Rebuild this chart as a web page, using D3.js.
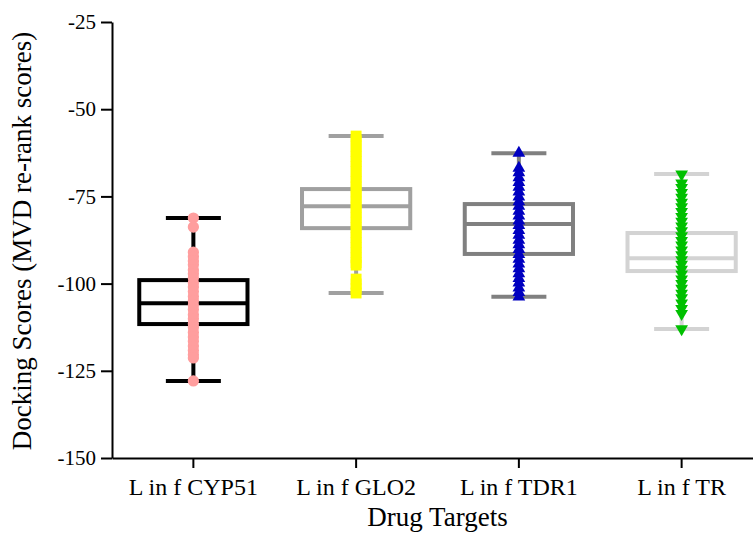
<!DOCTYPE html>
<html>
<head>
<meta charset="utf-8">
<script src="https://cdn.jsdelivr.net/npm/d3@7"></script>
<style>
  html, body { margin: 0; padding: 0; background: #fff; }
  svg { display: block; }
</style>
</head>
<body>
<svg id="chart" width="753" height="533"></svg>
<script>
// ---- data ----
const categories = ["L in f CYP51", "L in f GLO2", "L in f TDR1", "L in f TR"];
const yTicks = [-25, -50, -75, -100, -125, -150];

const boxMin    = [-127.9, -102.7, -103.8, -113.0];
const boxQ1     = [-111.6,  -84.1,  -91.5,  -96.4];
const boxMedian = [-105.6,  -77.8,  -82.9,  -92.7];
const boxQ3     = [ -99.0,  -72.9,  -77.2,  -85.5];
const boxMax    = [ -81.2,  -57.7,  -62.6,  -68.6];

const pointsCYP51 = [-81.2, -83.8, -91.0, -92.3, -93.5, -94.6, -96.1, -97.2, -98.4, -99.8,
  -101.0, -102.3, -103.7, -104.9, -106.2, -107.4, -108.9, -110.1, -111.5, -112.6,
  -114.0, -115.3, -116.5, -117.9, -119.2, -120.4, -121.3, -127.9];
const pointsGLO2 = [-57.7, -59.0, -60.6, -62.1, -63.5, -65.0, -66.4, -67.9, -69.5, -70.8,
  -72.3, -73.7, -75.2, -76.6, -78.1, -79.5, -81.0, -82.4, -83.9, -85.3, -86.8, -88.2,
  -89.7, -91.1, -92.6, -94.0, -94.7, -98.7, -100.1, -101.5, -102.7];
const pointsTDR1 = [-62.6, -66.9, -68.2, -69.6, -71.0, -72.3, -73.7, -75.1, -76.5, -77.8,
  -79.2, -80.6, -82.0, -83.3, -84.7, -86.1, -87.5, -88.8, -90.2, -91.6, -93.0, -94.3,
  -95.7, -97.1, -98.5, -99.8, -101.2, -102.5, -103.8];
const pointsTR = [-68.6, -71.2, -72.5, -73.9, -75.3, -76.7, -78.0, -79.4, -80.8, -82.2,
  -83.5, -84.9, -86.3, -87.7, -89.0, -90.4, -91.8, -93.2, -94.5, -95.9, -97.3, -98.7,
  -100.0, -101.4, -102.8, -104.1, -105.6, -107.2, -108.6, -113.0];

const pointSets = [pointsCYP51, pointsGLO2, pointsTDR1, pointsTR];
const boxColors = ["#000000", "#a0a0a0", "#808080", "#d3d3d3"];
const pointColors = ["#ff9e9e", "#ffff00", "#0000c0", "#00c000"];

// ---- drawing ----
const serif = "Liberation Serif";
const svg = d3.select("#chart");
const x = d3.scaleBand().domain(categories).range([112, 763]).padding(0);
const y = d3.scaleLinear().domain([-150, -25]).range([458, 22]);

const boxW = x.bandwidth() * 0.665;
const capW = 55;

const symbols = [
  d3.symbol().type(d3.symbolCircle).size(100),
  d3.symbol().type(d3.symbolSquare).size(118),
  d3.symbol().type(d3.symbolTriangle).size(70),
  d3.symbol().type(d3.symbolTriangle).size(70)
];
const rotations = [0, 0, 0, 180];

categories.forEach((c, i) => {
  const cx = x(c) + x.bandwidth() / 2;
  const g = svg.append("g");
  const col = boxColors[i];
  g.append("line").attr("x1", cx).attr("x2", cx)
    .attr("y1", y(boxMax[i])).attr("y2", y(boxMin[i]))
    .attr("stroke", col).attr("stroke-width", 4);
  [boxMax[i], boxMin[i]].forEach(v => {
    g.append("line").attr("x1", cx - capW / 2).attr("x2", cx + capW / 2)
      .attr("y1", y(v)).attr("y2", y(v))
      .attr("stroke", col).attr("stroke-width", 4);
  });
  g.append("rect").attr("x", cx - boxW / 2).attr("width", boxW)
    .attr("y", y(boxQ3[i])).attr("height", y(boxQ1[i]) - y(boxQ3[i]))
    .attr("fill", "#fff").attr("stroke", col).attr("stroke-width", 4);
  g.append("line").attr("x1", cx - boxW / 2).attr("x2", cx + boxW / 2)
    .attr("y1", y(boxMedian[i])).attr("y2", y(boxMedian[i]))
    .attr("stroke", col).attr("stroke-width", 4);
  g.selectAll("path.pt").data(pointSets[i]).join("path")
    .attr("class", "pt")
    .attr("d", symbols[i])
    .attr("transform", d => `translate(${cx},${y(d)}) rotate(${rotations[i]})`)
    .attr("fill", pointColors[i]);
});

// axes
const yAxis = svg.append("g").attr("transform", "translate(112,0)")
  .call(d3.axisLeft(y).tickValues(yTicks).tickFormat(d => String(d))
    .tickSize(11).tickSizeOuter(0).tickPadding(5));
yAxis.attr("font-family", serif).attr("font-size", 21);
yAxis.selectAll("path, line").attr("stroke", "#000").attr("stroke-width", 2);
yAxis.selectAll("text").attr("fill", "#000");

const xAxis = svg.append("g").attr("transform", "translate(0,458)")
  .call(d3.axisBottom(x).tickSize(10).tickSizeOuter(0).tickPadding(8));
xAxis.attr("font-family", serif).attr("font-size", 24);
xAxis.selectAll("path, line").attr("stroke", "#000").attr("stroke-width", 2);
xAxis.selectAll("text").attr("fill", "#000").attr("dy", null).attr("y", 37);

// axis titles
svg.append("text").attr("x", 437.5).attr("y", 526)
  .attr("text-anchor", "middle").attr("font-family", serif).attr("font-size", 27)
  .text("Drug Targets");
svg.append("text").attr("transform", "translate(31,241) rotate(-90)")
  .attr("text-anchor", "middle").attr("font-family", serif).attr("font-size", 27)
  .text("Docking Scores (MVD re-rank scores)");
</script>
</body>
</html>
